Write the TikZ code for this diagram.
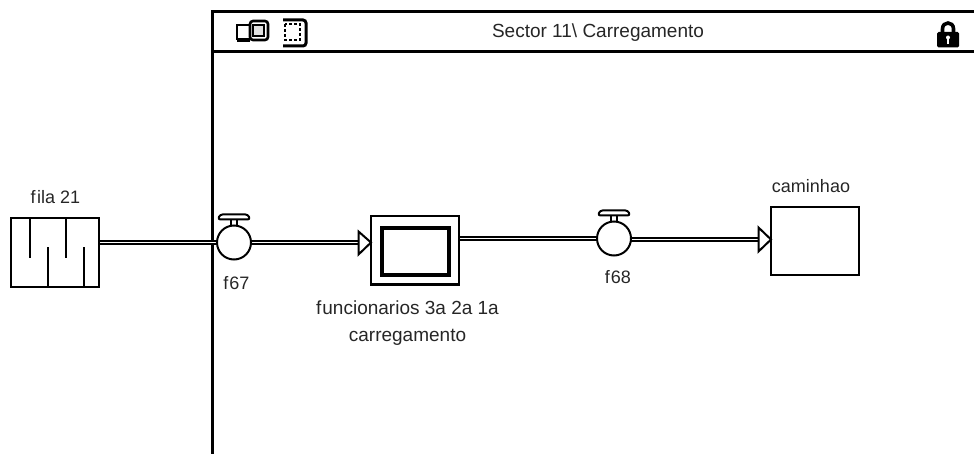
\documentclass[tikz,border=0pt]{standalone}
\usepackage{fontspec}
\setmainfont{Liberation Sans}
\usetikzlibrary{calc}
\tikzset{
  x=1pt,y=-1pt,
  lab/.style={inner sep=0pt,font=\fontsize{18}{27}\selectfont,align=center,text=black!85},
  labw/.style={inner sep=0pt,font=\fontsize{19}{27}\selectfont,align=center,text=black!85},
  boxn/.style={draw=black,line width=2pt,fill=white,inner sep=0pt,minimum width=88pt,minimum height=68pt},
  core/.style={draw=black,line width=3.6pt,fill=white,inner sep=0pt,minimum width=67pt,minimum height=47pt},
  valve/.style={circle,draw=black,line width=2pt,fill=white,inner sep=0pt,minimum size=34pt},
  flow/.style={draw=black,line width=2pt,double=white,double distance=1.6pt},
  head/.style={draw=black,line width=2pt,fill=white,line join=miter},
  frame/.style={draw=black,line width=3pt},
  wick/.style={draw=black,line width=2pt},
}
\begin{document}
\begin{tikzpicture}
\useasboundingbox (0,0) rectangle (974,454);
% frame
\coordinate (fa) at (212,454);
\coordinate (fb) at (212,11.5);
\coordinate (fc) at (974,11.5);
\coordinate (fd) at (212,52);
\coordinate (fe) at (974,52);
\draw[frame,line join=miter] (fa) -- (fb) -- (fc);
\draw[frame] (fd) -- (fe);
% tab icons
\fill[white] (216,14) rectangle (282,50);
\draw[black,line width=1pt] (214,52) -- (282,52);
\draw[black,line width=3pt,fill=white,rounded corners=3pt] (283,20) -- (306,20) -- (306,46) -- (283,46);
\draw[black,line width=1.4pt,dash pattern=on 3pt off 2pt] (285,24) rectangle (300,40);
\draw[black,line width=1.5pt,fill=white] (237,25) rectangle (250,39);
\draw[black,line width=2.6pt,fill=white,rounded corners=3pt] (250,21) rectangle (268,40);
\draw[black,line width=1.2pt,fill=black!12] (253,25) rectangle (264,36);
\fill[black] (237,40) rectangle (250,42);
\node[labw] (title) at (598,32.5) {Sector 11\textbackslash\ Carregamento};
% lock
\draw[black,line width=3.6pt] (942.5,34) -- (942.5,29) .. controls (942.5,21) and (953.5,21) .. (953.5,29) -- (953.5,34);
\fill[black,rounded corners=1.5pt] (937,32) rectangle (959,47.5);
\fill[white] (948,37.5) circle[radius=2];
\fill[white] (947.2,38) rectangle (948.8,44);
% nodes
\node[boxn] (fila) at (55,252.5) {};
\coordinate (w1) at (30,218); \coordinate (w1e) at (30,258);
\coordinate (w2) at (48,287); \coordinate (w2e) at (48,247);
\coordinate (w3) at (66,218); \coordinate (w3e) at (66,258);
\coordinate (w4) at (84,287); \coordinate (w4e) at (84,247);
\draw[wick] (w1)--(w1e) (w2)--(w2e) (w3)--(w3e) (w4)--(w4e);
\node[boxn] (func) at (415,250.5) {};
\node[core] (funcin) at (415.5,251.5) {};
\node[boxn] (cam) at (815,241) {};
% flows
\coordinate (v1c) at (234,242.5);
\coordinate (v2c) at (614,238.5);
\coordinate (v2r) at (614,239.5);
\coordinate (h1) at (358.5,242.5);
\coordinate (h2) at (758.5,239.5);
\draw[flow] (v1c -| fila.east) -- (v1c);
\draw[flow] (v1c) -- (h1);
\draw[flow] (v2c -| func.east) -- (v2c);
\draw[flow] (v2r) -- (h2);
% heads
\draw[head] (358.5,231.5) -- (371,242.5) -- (358.5,254.5) -- cycle;
\draw[head] (758.5,227.5) -- (771,239.5) -- (758.5,251.5) -- cycle;
% valves
\foreach \n/\c in {v1/v1c,v2/v2c}{
  \draw[black,line width=1.8pt,fill=white] ($(\c)+(-3,-23)$) rectangle ($(\c)+(3,-16)$);
  \draw[black,line width=2pt,fill=white,rounded corners=2.5pt] ($(\c)+(-16,-23)$) -- ($(\c)+(-14,-28)$) -- ($(\c)+(14,-28)$) -- ($(\c)+(16,-23)$) -- cycle;
  \node[valve] (\n) at (\c) {};
}
% labels
\node[lab] (lfila) at (55.5,197) {f\kern1.5pt ila 21};
\node[lab] (lf67) at (236.5,283) {f\kern1pt 67};
\node[lab] (lf68) at (618,277) {f\kern1pt 68};
\node[labw] (lfunc) at (407.5,323) {f\kern1pt uncionarios 3a 2a 1a\\carregamento};
\node[lab] (lcam) at (811,186) {caminhao};
\end{tikzpicture}
\end{document}
